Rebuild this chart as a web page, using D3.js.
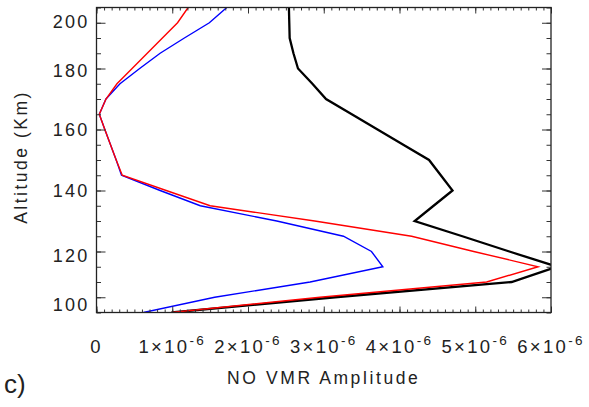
<!DOCTYPE html>
<html>
<head>
<meta charset="utf-8">
<script src="https://cdn.jsdelivr.net/npm/d3@7"></script>
<style>
  body { margin: 0; background: #fff; }
  text { font-family: "Liberation Sans", Arial, sans-serif; fill: #222; }
</style>
</head>
<body>
<svg id="chart"></svg>
<script>
// model levels (km); the plot spaces them evenly on the vertical axis
const levels = [206.7, 200, 193.3, 186.7, 180, 175, 170, 165, 160, 155, 150,
  145, 140, 135, 130, 125, 120, 113.3, 106.7, 100, 93.3];
const altTicks = [200, 180, 160, 140, 120, 100];
const xTicks = [0, 1, 2, 3, 4, 5, 6]; // x 1e-6

// NO VMR amplitude (x 1e-6), one value per level
const blackAmp = [2.54, 2.545, 2.55, 2.6, 2.66, 2.85, 3.03, 3.37, 3.71, 4.05, 4.39,
  4.545, 4.7, 4.45, 4.2, 4.83, 5.45, 6.08, 5.48, 3.15, 0.99];
const blueAmp = [1.72, 1.49, 1.16, 0.84, 0.57, 0.31, 0.125, 0.037, 0.11, 0.185, 0.26,
  0.33, 0.84, 1.37, 2.38, 3.26, 3.63, 3.78, 2.82, 1.56, 0.62];
const redAmp = [1.21, 1.07, 0.87, 0.67, 0.47, 0.27, 0.125, 0.037, 0.11, 0.185, 0.26,
  0.34, 0.92, 1.5, 2.88, 4.16, 4.98, 5.83, 5.15, 2.95, 0.99];

const W = 589, H = 407;
const margin = { top: 7.5, left: 96.5 };
const width = 454.5, height = 305;

const svg = d3.select("#chart").attr("width", W).attr("height", H);
const g = svg.append("g").attr("transform", `translate(${margin.left},${margin.top})`);

const x = d3.scaleLinear().domain([0, 6]).range([0, width]);
const y = d3.scaleLinear()
  .domain(levels)
  .range(levels.map((d, i) => (i * height) / (levels.length - 1)));

svg.append("defs").append("clipPath").attr("id", "clip")
  .append("rect").attr("width", width).attr("height", height);

// lines
const line = d3.line().x((d) => x(d[0])).y((d) => y(d[1]));
const series = [
  { values: blackAmp, color: "#000", w: 2.3 },
  { values: blueAmp, color: "#0000ff", w: 1.4 },
  { values: redAmp, color: "#ff0000", w: 1.4 },
];
g.append("g").attr("clip-path", "url(#clip)")
  .selectAll("path")
  .data(series)
  .enter()
  .append("path")
  .attr("d", (s) => line(s.values.map((v, i) => [v, levels[i]])))
  .attr("fill", "none")
  .attr("stroke", (s) => s.color)
  .attr("stroke-width", (s) => s.w)
  .attr("stroke-linejoin", "miter");

// axes, ticks pointing inward
const minorX = d3.range(0, 60.5, 1).map((d) => d / 10);
function styleAxis(sel) {
  sel.select(".domain").remove();
  sel.selectAll("line").attr("stroke", "#333").attr("stroke-width", 1);
  sel.selectAll("text").remove();
}
g.append("g").attr("transform", `translate(0,${height})`)
  .call(d3.axisBottom(x).tickValues(minorX).tickSize(-3)).call(styleAxis);
g.append("g").attr("transform", `translate(0,${height})`)
  .call(d3.axisBottom(x).tickValues(xTicks).tickSize(-6)).call(styleAxis);
g.append("g")
  .call(d3.axisTop(x).tickValues(minorX).tickSize(-3)).call(styleAxis);
g.append("g")
  .call(d3.axisTop(x).tickValues(xTicks).tickSize(-6)).call(styleAxis);
g.append("g")
  .call(d3.axisLeft(y).tickValues(levels).tickSize(-4.5)).call(styleAxis);
g.append("g")
  .call(d3.axisLeft(y).tickValues(altTicks).tickSize(-9)).call(styleAxis);
g.append("g").attr("transform", `translate(${width},0)`)
  .call(d3.axisRight(y).tickValues(levels).tickSize(-4.5)).call(styleAxis);
g.append("g").attr("transform", `translate(${width},0)`)
  .call(d3.axisRight(y).tickValues(altTicks).tickSize(-9)).call(styleAxis);

g.append("rect")
  .attr("width", width).attr("height", height)
  .attr("fill", "none").attr("stroke", "#222").attr("stroke-width", 1.3);

// tick labels (the lowest two sit a little under their ticks, as in the original)
const labelNudge = { 200: -1, 180: 2, 120: 4, 100: 7 };
g.selectAll(".ylab")
  .data(altTicks)
  .enter()
  .append("text")
  .attr("x", -7)
  .attr("y", (d) => y(d) + (labelNudge[d] || 0))
  .attr("dy", "0.36em")
  .attr("text-anchor", "end")
  .style("font-size", "18px")
  .style("letter-spacing", "2.2px")
  .text((d) => d);

const xl = g.selectAll(".xlab")
  .data(xTicks)
  .enter()
  .append("text")
  .attr("x", (d) => x(d))
  .attr("y", height + 40.5)
  .attr("text-anchor", "middle")
  .style("font-size", "18.5px")
  .style("letter-spacing", "2.3px");
xl.append("tspan").text((d) => (d === 0 ? "0" : `${d}×10`));
xl.filter((d) => d !== 0)
  .append("tspan")
  .attr("dy", -8.5)
  .style("font-size", "13.5px")
  .text("-6");

// titles
svg.append("text")
  .attr("x", margin.left + width / 2)
  .attr("y", 383.5)
  .attr("text-anchor", "middle")
  .style("font-size", "17.5px")
  .style("letter-spacing", "2.6px")
  .text("NO VMR Amplitude");

svg.append("text")
  .attr("transform", "translate(27,157) rotate(-90)")
  .attr("text-anchor", "middle")
  .style("font-size", "17.5px")
  .style("letter-spacing", "2.5px")
  .text("Altitude (Km)");

svg.append("text")
  .attr("x", 4)
  .attr("y", 393)
  .style("font-size", "26px")
  .text("c)");
</script>
</body>
</html>
